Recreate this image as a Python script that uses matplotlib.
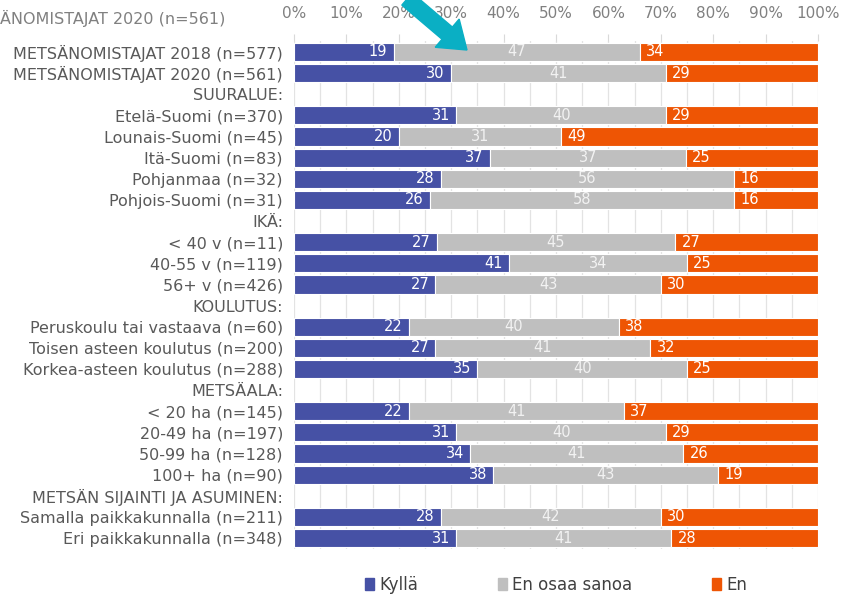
import numpy as np
import matplotlib.pyplot as plt
from matplotlib.patches import FancyArrow, Patch

plt.rcParams['font.family'] = ['DejaVu Sans']

# Rivit (otsikkoriveillä ei palkkia)
labels = ["METSÄNOMISTAJAT 2018 (n=577)", "METSÄNOMISTAJAT 2020 (n=561)", "SUURALUE:",
          "Etelä-Suomi (n=370)", "Lounais-Suomi (n=45)", "Itä-Suomi (n=83)",
          "Pohjanmaa (n=32)", "Pohjois-Suomi (n=31)", "IKÄ:",
          "< 40 v (n=11)", "40-55 v (n=119)", "56+ v (n=426)", "KOULUTUS:",
          "Peruskoulu tai vastaava (n=60)", "Toisen asteen koulutus (n=200)",
          "Korkea-asteen koulutus (n=288)", "METSÄALA:",
          "< 20 ha (n=145)", "20-49 ha (n=197)", "50-99 ha (n=128)", "100+ ha (n=90)",
          "METSÄN SIJAINTI JA ASUMINEN:",
          "Samalla paikkakunnalla (n=211)", "Eri paikkakunnalla (n=348)"]

kylla = [19, 30, None, 31, 20, 37, 28, 26, None, 27, 41, 27, None, 22, 27, 35, None, 22, 31, 34, 38, None, 28, 31]
eos   = [47, 41, None, 40, 31, 37, 56, 58, None, 45, 34, 43, None, 40, 41, 40, None, 41, 40, 41, 43, None, 42, 41]
en    = [34, 29, None, 29, 49, 25, 16, 16, None, 27, 25, 30, None, 38, 32, 25, None, 37, 29, 26, 19, None, 30, 28]

series = ["Kyllä", "En osaa sanoa", "En"]
colors = ["#4651A5", "#BFBFBF", "#EE5504"]

fig = plt.figure(figsize=(8.44, 5.97), dpi=100)
ax = fig.add_axes([294/844, 1-548.6/597, 524/844, 507.2/597])

y = np.arange(len(labels))
for i in range(len(labels)):
    if kylla[i] is None:
        continue
    vals = [kylla[i], eos[i], en[i]]
    tot = sum(vals)
    w = [v*100/tot for v in vals]
    left = 0
    for j in range(3):
        ax.barh(y[i], w[j], left=left, height=0.86, color=colors[j],
                edgecolor='white', linewidth=0.8, zorder=2)
        if j == 0:
            ax.text(left + w[j] - 1.2, y[i], str(vals[j]), ha='right', va='center',
                    color='white', fontsize=10.5, zorder=3)
        elif j == 1:
            ax.text(left + w[j]/2, y[i], str(vals[j]), ha='center', va='center',
                    color='#F2F2F2', fontsize=10.5, zorder=3)
        else:
            ax.text(left + 1.2, y[i], str(vals[j]), ha='left', va='center',
                    color='white', fontsize=10.5, zorder=3)
        left += w[j]

ax.set_xlim(0, 100)
ax.set_ylim(len(labels)-0.5, -0.5)
ax.set_yticks(y)
ax.set_yticklabels(labels, fontsize=11.5, color='#595959')
ax.tick_params(axis='y', length=0, pad=8)

ax.xaxis.tick_top()
ax.set_xticks(np.arange(0, 101, 10))
ax.set_xticklabels([f"{v}%" for v in range(0, 101, 10)], fontsize=11, color='#808080')
ax.set_xticks(np.arange(0, 101, 5), minor=True)
ax.tick_params(axis='x', which='major', length=5, color='#D9D9D9', pad=10)
ax.tick_params(axis='x', which='minor', length=0)
ax.grid(axis='x', which='both', color='#E3E3E3', linewidth=0.9, zorder=0)
ax.set_axisbelow(True)
for s in ax.spines.values():
    s.set_visible(False)

# otsikon näkyvä osa vasemmassa yläkulmassa
fig.text(0, 1-18/597, "ÄNOMISTAJAT 2020 (n=561)", ha='left', va='center',
         fontsize=11.5, color='#808080')

# nuoli
arrow = FancyArrow(4.07, 5.98, 0.60, -0.51, width=0.16, head_width=0.37, head_length=0.26,
                   length_includes_head=True, color='#0AAFC4', transform=fig.dpi_scale_trans)
fig.patches.append(arrow)

handles = [Patch(color=c) for c in colors]
ax.legend(handles, series, loc='center', bbox_to_anchor=(0.5, -0.072), ncol=3, frameon=False,
          fontsize=12, handlelength=0.55, handleheight=0.75, handletextpad=0.3,
          columnspacing=4.8, labelcolor='#404040')

fig.savefig("out.png", dpi=100)
